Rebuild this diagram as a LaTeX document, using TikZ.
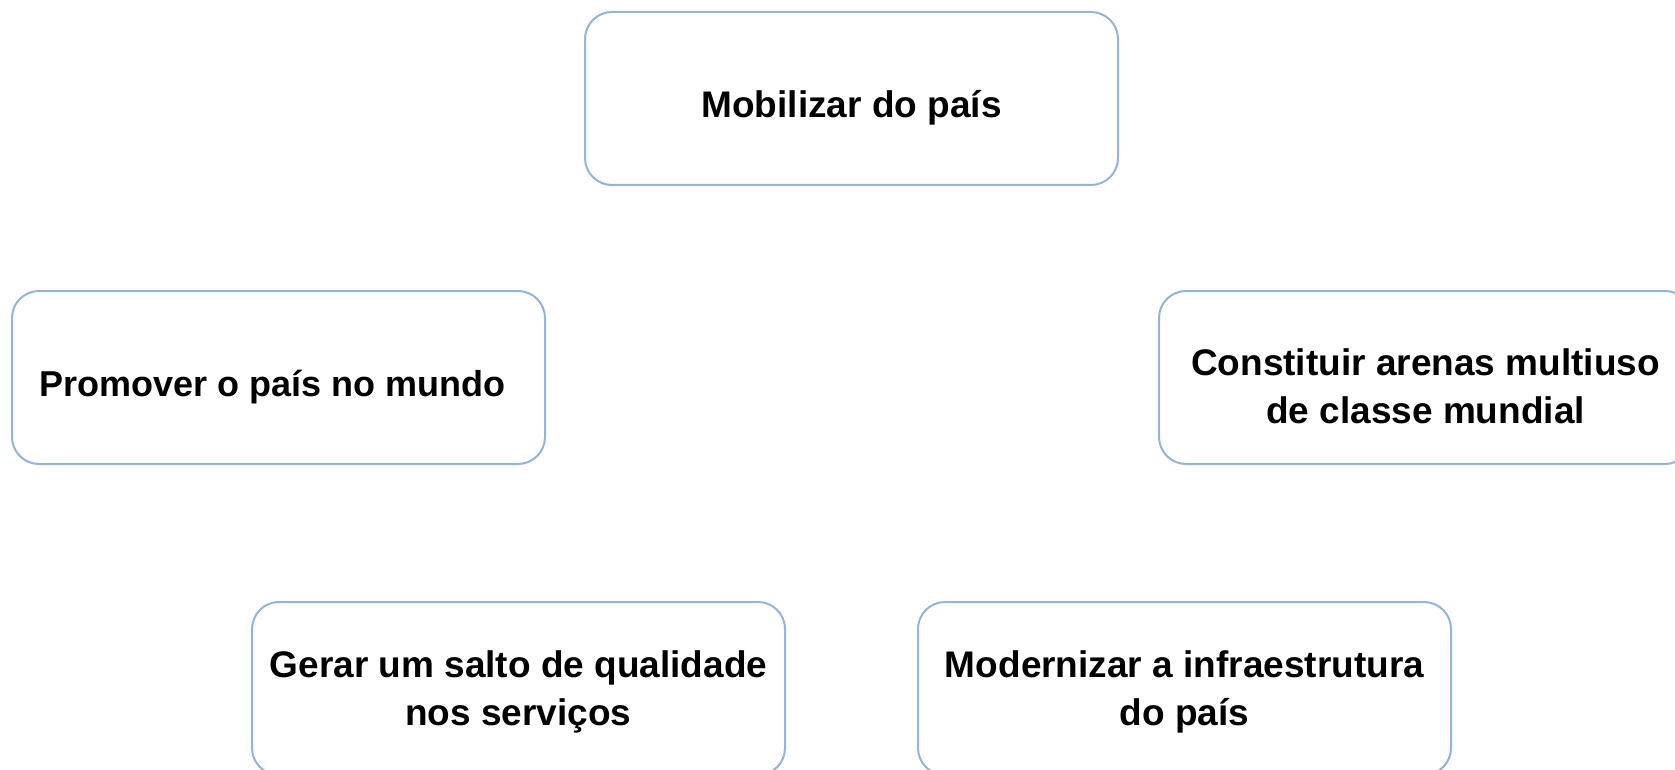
\documentclass[tikz,border=0pt]{standalone}
\usepackage{fontspec}
\setmainfont{Liberation Sans}
\usepackage{tikz}

\begin{document}
\begin{tikzpicture}[x=1pt,y=-1pt,
    goal/.style={draw=goalblue,line width=2pt,rounded corners=27pt,
      minimum width=533pt,minimum height=173pt},
    goaltext/.style={align=center,font=\fontsize{37}{48}\selectfont\bfseries}]
    \definecolor{goalblue}{HTML}{94B3D6}

    \useasboundingbox (0,0) rectangle (1675,770);

    \node[goal] (mob)  at (851.5, 98.5)   {};
    \node[goal] (prom) at (278.5, 377.5)  {};
    \node[goal] (aren) at (1425.5, 377.5) {};
    \node[goal] (serv) at (518.5, 688.5)  {};
    \node[goal] (infr) at (1184.5, 688.5) {};

    \node[goaltext] (mob-t)  at ([yshift=-9.5pt]mob.center)  {Mobilizar do país};
    \node[goaltext,font=\fontsize{36}{48}\selectfont\bfseries]
      (prom-t) at ([xshift=-6pt,yshift=-9.5pt]prom.center) {Promover o país no mundo};
    \node[goaltext] (aren-t) at ([yshift=-9pt]aren.center)   {Constituir arenas multiuso\\de classe mundial};
    \node[goaltext] (serv-t) at ([yshift=-3pt]serv.center)   {Gerar um salto de qualidade\\nos serviços};
    \node[goaltext] (infr-t) at ([yshift=-3pt]infr.center)   {Modernizar a infraestrutura\\do país};
  \end{tikzpicture}
\end{document}
